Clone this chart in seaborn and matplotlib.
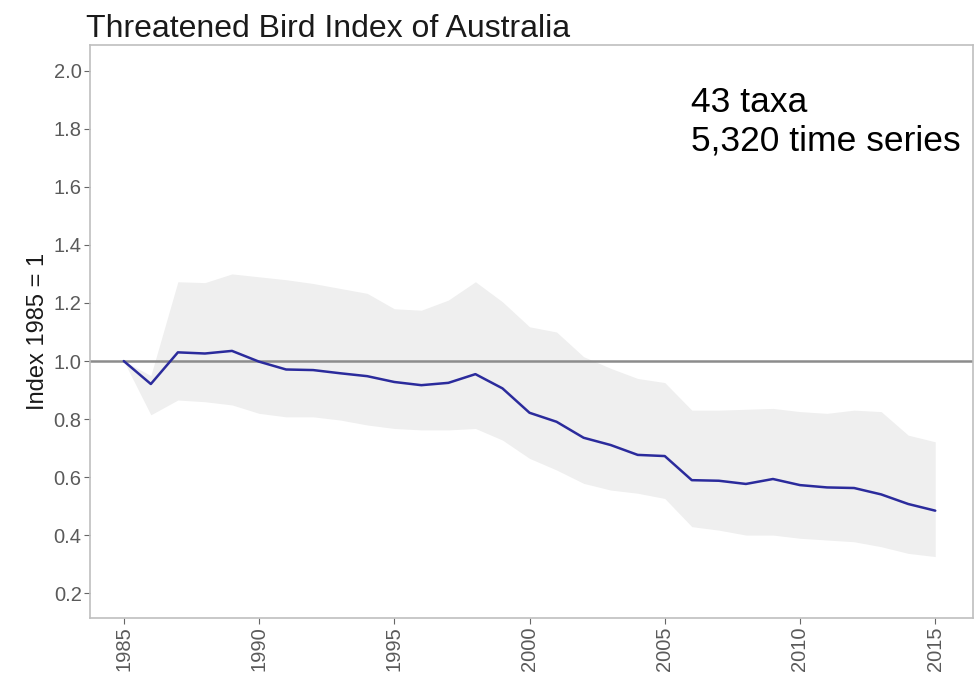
import matplotlib
matplotlib.use("Agg")
import matplotlib.pyplot as plt
import numpy as np
import pandas as pd
import seaborn as sns

# 数据：年份、指数及置信区间
years = list(range(1985, 2016))
index_val = [1.000, 0.921, 1.030, 1.026, 1.035, 0.998, 0.971, 0.969, 0.958, 0.948,
             0.928, 0.917, 0.925, 0.955, 0.906, 0.822, 0.791, 0.736, 0.711, 0.677,
             0.673, 0.590, 0.588, 0.577, 0.594, 0.573, 0.565, 0.563, 0.541, 0.508,
             0.485]
upper_val = [1.000, 0.950, 1.273, 1.270, 1.300, 1.290, 1.280, 1.267, 1.250, 1.233,
             1.180, 1.175, 1.210, 1.273, 1.204, 1.118, 1.100, 1.015, 0.975, 0.940,
             0.926, 0.831, 0.831, 0.834, 0.837, 0.826, 0.820, 0.831, 0.826, 0.745,
             0.722]
lower_val = [1.000, 0.815, 0.866, 0.860, 0.849, 0.820, 0.808, 0.808, 0.797, 0.780,
             0.768, 0.763, 0.763, 0.768, 0.728, 0.665, 0.625, 0.579, 0.556, 0.545,
             0.527, 0.430, 0.418, 0.401, 0.401, 0.390, 0.384, 0.378, 0.361, 0.338,
             0.327]
y_ticks = [0.2, 0.4, 0.6, 0.8, 1.0, 1.2, 1.4, 1.6, 1.8, 2.0]
x_ticks = [1985, 1990, 1995, 2000, 2005, 2010, 2015]

df = pd.DataFrame({"year": years, "index": index_val,
                   "upper": upper_val, "lower": lower_val})

sns.set_style("ticks")
plt.rcParams['font.family'] = ['Liberation Sans', 'DejaVu Sans']

fig = plt.figure(figsize=(9.78, 6.76), dpi=100)
ax = fig.add_axes([0.092, 0.086, 0.903, 0.847])

ax.fill_between(df["year"], df["lower"], df["upper"], color="#efefef", linewidth=0)
ax.axhline(1.0, color="#8c8c8c", linewidth=1.8, zorder=2)
sns.lineplot(data=df, x="year", y="index", ax=ax, color="#2b2b9c", linewidth=1.8, zorder=3)

ax.set_xlim(1983.75, 2016.4)
ax.set_ylim(0.116, 2.087)
ax.set_xticks(x_ticks)
ax.set_xticklabels([str(t) for t in x_ticks], rotation=90)
ax.set_yticks(y_ticks)
ax.set_yticklabels([f"{t:.1f}" for t in y_ticks])
ax.tick_params(axis="both", direction="out", length=4, width=0.8, color="#666666",
               labelsize=14.5, labelcolor="#5a5a5a", pad=2, bottom=True, left=True)

for s in ax.spines.values():
    s.set_color("#bfbfbf")
    s.set_linewidth(1.2)

ax.set_xlabel("")
ax.set_ylabel("Index 1985 = 1", fontsize=17, color="#1a1a1a", labelpad=3)
ax.set_title("Threatened Bird Index of Australia", fontsize=23, color="#1a1a1a",
             loc="left", x=-0.005, pad=6)

ax.text(0.68, 0.866, "43 taxa\n5,320 time series", transform=ax.transAxes,
        fontsize=25.5, color="black", ha="left", va="center", linespacing=1.2)

fig.savefig("out.png", dpi=100)
